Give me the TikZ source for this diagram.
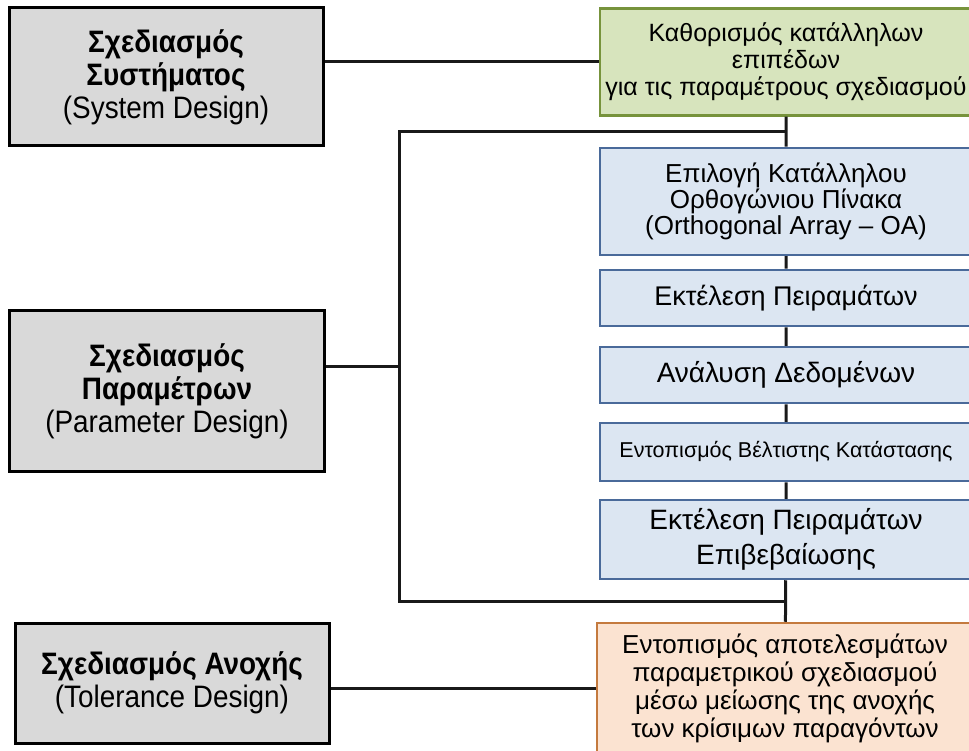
\documentclass[tikz,border=0pt]{standalone}
\usepackage{fontspec}
\setmainfont{Liberation Sans}
\newfontfamily\fasefont{Liberation Sans}[FakeStretch=0.9]
\usetikzlibrary{calc}
\definecolor{grisfase}{HTML}{D9D9D9}
\definecolor{verdefondo}{HTML}{D7E4BD}
\definecolor{verdeborde}{HTML}{77933C}
\definecolor{azulfondo}{HTML}{DCE6F2}
\definecolor{azulborde}{HTML}{4A6A9A}
\definecolor{naranjafondo}{HTML}{FBE3D1}
\definecolor{naranjaborde}{HTML}{C47A3E}
\begin{document}
\begin{tikzpicture}[x=1pt, y=-1pt,
		fase/.style={draw=black, line width=3pt, fill=grisfase, align=center, inner sep=0pt, font=\fasefont\fontsize{31}{33}\selectfont},
		paso/.style={draw=azulborde, line width=2.5pt, fill=azulfondo, align=center, inner sep=0pt, minimum width=372pt},
		enlace/.style={line width=3pt, draw=black!90}]
			\useasboundingbox (0,0) rectangle (969,751);
			\clip (0,0) rectangle (969,751);
			
			% Fases (lado izquierdo)
			\node[fase, minimum width=314pt, minimum height=138pt] (sistema) at (166,77)
				{\textbf{Σχεδιασμός}\\\textbf{Συστήματος}\\(System Design)};
			\node[fase, minimum width=315pt, minimum height=160pt] (parametros) at (167,391)
				{\textbf{Σχεδιασμός}\\\textbf{Παραμέτρων}\\(Parameter Design)};
			\node[fase, minimum width=314pt, minimum height=120pt] (tolerancia) at (172,683)
				{\textbf{Σχεδιασμός Ανοχής}\\(Tolerance Design)};
			
			% Pasos (lado derecho)
			\node[paso, draw=verdeborde, fill=verdefondo, minimum height=107pt, font=\fontsize{25}{27}\selectfont] (niveles) at (786,62)
				{Καθορισμός κατάλληλων\\επιπέδων\\για τις παραμέτρους σχεδιασμού};
			\node[paso, minimum height=107pt, font=\fontsize{26}{23.5}\selectfont] (ortogonal) at (786,201.5)
				{Επιλογή Κατάλληλου\\Ορθογώνιου Πίνακα\\(Orthogonal Array – OA)};
			\node[paso, minimum height=56pt, font=\fontsize{27}{30}\selectfont] (ensayos) at (786,298)
				{Εκτέλεση Πειραμάτων};
			\node[paso, minimum height=56pt, font=\fontsize{28}{30}\selectfont] (analisis) at (786,375)
				{Ανάλυση Δεδομένων};
			\node[paso, minimum height=58pt, font=\fontsize{21.5}{24}\selectfont] (optimo) at (786,452)
				{Εντοπισμός Βέλτιστης Κατάστασης};
			\node[paso, minimum height=79pt, font=\fontsize{28}{35}\selectfont] (confirmacion) at (786,539.5)
				{\rule{0pt}{9pt}Εκτέλεση Πειραμάτων\\Επιβεβαίωσης};
			\node[paso, draw=naranjaborde, fill=naranjafondo, minimum width=376pt, minimum height=130pt, font=\fontsize{26}{28}\selectfont] (resultado) at (785,688)
				{Εντοπισμός αποτελεσμάτων\\παραμετρικού σχεδιασμού\\μέσω μείωσης της ανοχής\\των κρίσιμων παραγόντων};
			
			% Puntos de la llave
			\coordinate (arriba) at ($(niveles.south)!0.5!(ortogonal.north)$);
			\coordinate (abajo) at ($(confirmacion.south)!0.5!(resultado.north)$);
			\coordinate (llave) at (399,366);
			
			% Conexiones
			\draw[enlace] (niveles.west) -- (niveles.west -| sistema.east);
			\draw[enlace] (niveles) -- (ortogonal) -- (ensayos) -- (analisis) -- (optimo) -- (confirmacion) -- (resultado);
			\draw[enlace] (arriba) -- (arriba -| llave) -- (abajo -| llave) -- (abajo);
			\draw[enlace] (llave) -- (llave -| parametros.east);
			\draw[enlace] (resultado.west) -- (resultado.west -| tolerancia.east);
		\end{tikzpicture}
\end{document}
